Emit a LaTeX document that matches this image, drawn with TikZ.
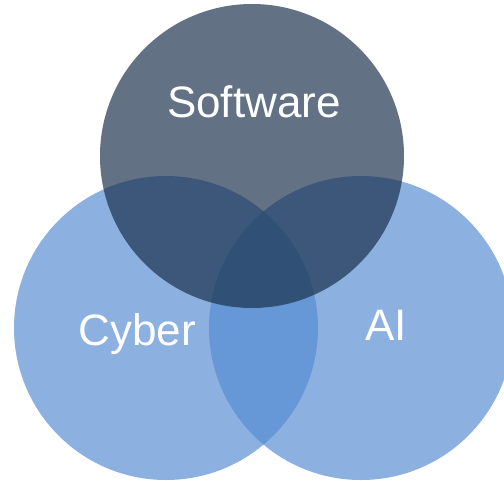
\documentclass[tikz,border=0pt]{standalone}
\usepackage{fontspec}
\setmainfont{Liberation Sans}
\begin{document}
\begin{tikzpicture}[x=1pt,y=-1pt]
\definecolor{blueset}{RGB}{85,140,210}
\definecolor{softset}{RGB}{23,46,74}
\tikzset{
  setcircle/.style={circle, minimum size=304pt, inner sep=0pt, draw=none, fill opacity=0.68},
  setlabel/.style={text=white, font=\fontsize{44}{44}\selectfont, anchor=base, inner sep=0pt}
}
\clip (0,0) rectangle (504,480);
\node[setcircle, fill=blueset] (cyber) at (166,328) {};
\node[setcircle, fill=blueset] (ai) at (361,328) {};
\node[setcircle, fill=softset] (software) at (252,156) {};
\node[setlabel] (softwarelabel) at (254,117) {Software};
\node[setlabel] (cyberlabel) at (137,345) {Cyber};
\node[setlabel] (ailabel) at (386,340) {AI};
\end{tikzpicture}
\end{document}
